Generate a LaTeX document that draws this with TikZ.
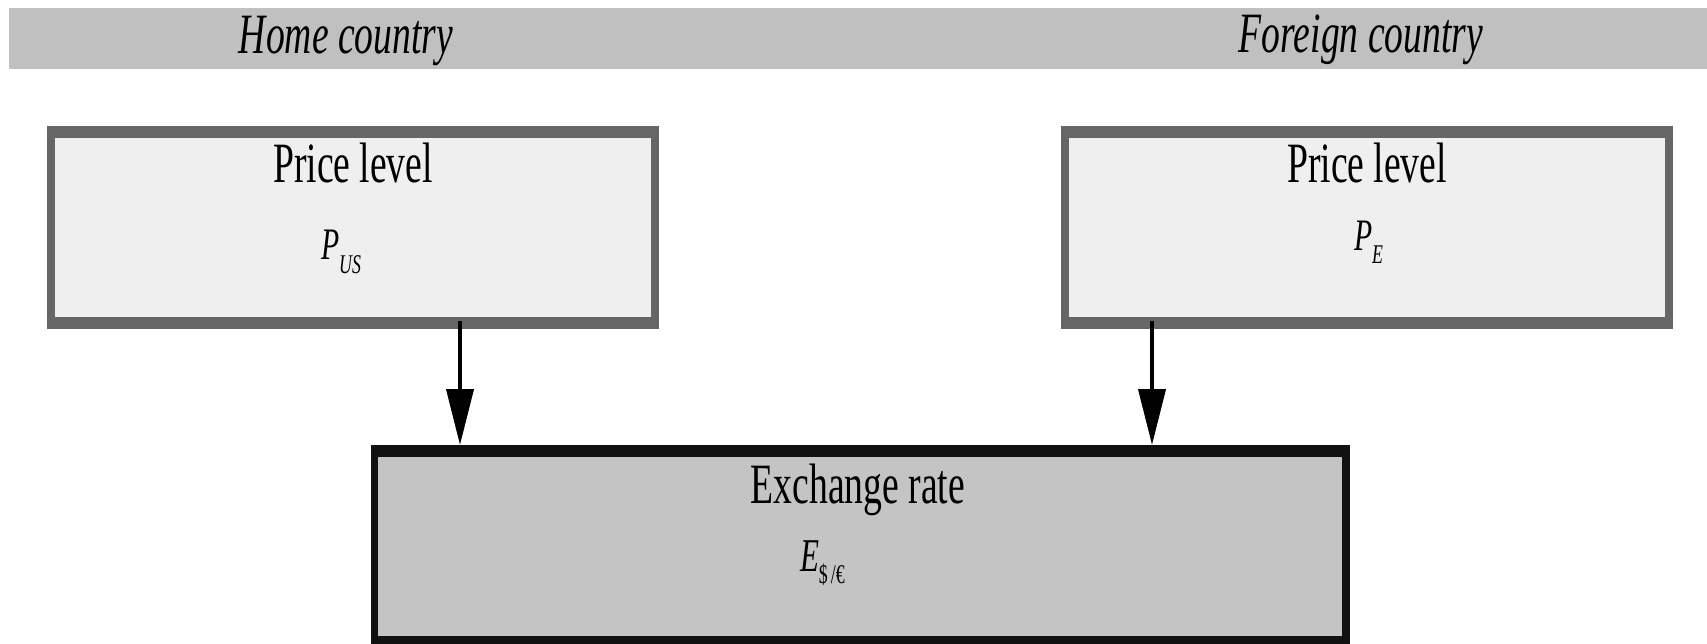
\documentclass[tikz,border=0pt]{standalone}
\usepackage{fontspec}
\setmainfont{Liberation Serif}[FakeStretch=0.66]
\usetikzlibrary{arrows.meta}

\definecolor{band}{HTML}{C0C0C0}
\definecolor{pframe}{HTML}{666666}
\definecolor{pfill}{HTML}{EFEFEF}
\definecolor{xframe}{HTML}{111111}
\definecolor{xfill}{HTML}{C4C4C4}

\newcommand\headsize{\fontsize{57}{60}\selectfont}
\newcommand\varsize{\fontsize{45}{48}\selectfont}
\newcommand\subsize{\fontsize{27}{30}\selectfont}

\tikzset{
  banner/.style={fill=band, inner sep=0pt, outer sep=0pt,
                 minimum width=1698pt, minimum height=61pt},
  pricebox/.style={fill=pframe, inner sep=0pt, outer sep=0pt,
                   minimum width=612pt, minimum height=203pt},
  ratebox/.style={fill=xframe, inner sep=0pt, outer sep=0pt,
                  minimum width=979pt, minimum height=199pt},
  label/.style={inner sep=0pt, outer sep=0pt, text=black},
  arr/.style={line width=4pt, draw=black,
              -{Triangle[length=56pt,width=27pt]}}
}

\begin{document}
\begin{tikzpicture}[x=1pt,y=-1pt]
  \useasboundingbox (0,0) rectangle (1707,644);
  \fill[white] (0,0) rectangle (1707,644);

  % header band
  \node[banner] (band) at (858,38.5) {};
  \node[label, anchor=base] (home) at (346,54) {\headsize\itshape Home country};
  \node[label, anchor=base] (foreign) at (1361,53) {\headsize\itshape Foreign country};

  % price level boxes
  \node[pricebox] (hb) at (353,227.5) {};
  \fill[pfill] ([shift={(8pt,-12pt)}]hb.north west) rectangle ([shift={(-8pt,12pt)}]hb.south east);
  \node[pricebox] (fb) at (1367,227.5) {};
  \fill[pfill] ([shift={(8pt,-12pt)}]fb.north west) rectangle ([shift={(-8pt,12pt)}]fb.south east);

  \node[label, anchor=base] (htitle) at (353,183) {\headsize Price level};
  \node[label, anchor=base west] (hvar) at (321,259)
    {\varsize\itshape P\raisebox{-14pt}{\subsize US}};
  \node[label, anchor=base] (ftitle) at (1367,183) {\headsize Price level};
  \node[label, anchor=base west] (fvar) at (1354,251)
    {\varsize\itshape P\raisebox{-13pt}{\subsize E}};

  % exchange rate box
  \node[ratebox] (ex) at (860.5,544.5) {};
  \fill[xfill] ([shift={(7pt,-12pt)}]ex.north west) rectangle ([shift={(-8pt,8pt)}]ex.south east);
  \node[label, anchor=base] (xtitle) at (858,503) {\headsize Exchange rate};
  \node[label, anchor=base west] (xvar) at (800,571)
    {\fontsize{47}{50}\selectfont\itshape E\raisebox{-12pt}{\subsize\upshape \$\kern3pt/\texteuro}};

  % links
  \path (hb.south) ++(107,-8) coordinate (hs);
  \path (fb.south) ++(-215,-8) coordinate (fs);
  \draw[arr] (hs) -- (hs |- ex.north);
  \draw[arr] (fs) -- (fs |- ex.north);
\end{tikzpicture}
\end{document}
